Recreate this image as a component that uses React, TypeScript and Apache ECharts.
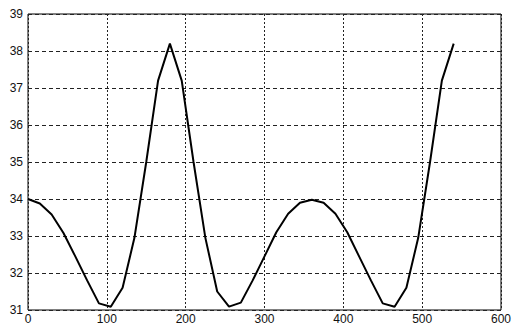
import React, { useEffect, useRef } from "react";
import * as echarts from "echarts";

const xValues = [0, 15, 30, 45, 60, 75, 90, 105, 120, 135, 150, 165, 180, 195, 210, 225, 240, 255, 270, 285, 300, 315, 330, 345, 360, 375, 390, 405, 420, 435, 450, 465, 480, 495, 510, 525, 540];
const yValues = [34.0, 33.88, 33.58, 33.08, 32.45, 31.8, 31.18, 31.09, 31.6, 32.95, 35.0, 37.2, 38.2, 37.2, 35.0, 32.95, 31.5, 31.09, 31.2, 31.8, 32.45, 33.1, 33.6, 33.9, 33.98, 33.9, 33.6, 33.1, 32.45, 31.8, 31.18, 31.09, 31.6, 32.95, 35.0, 37.2, 38.2];

export default function App() {
  const ref = useRef<HTMLDivElement>(null);
  useEffect(() => {
    if (!ref.current) return;
    const chart = echarts.init(ref.current, undefined, { renderer: "svg" });
    const data = xValues.map((x, i) => [x, yValues[i]]);
    chart.setOption({
      animation: false,
      backgroundColor: "#fff",
      grid: {
        left: 28,
        right: 9,
        top: 14,
        bottom: 18,
        show: true,
        borderColor: "#000",
        borderWidth: 1,
      },
      xAxis: {
        type: "value",
        min: 0,
        max: 600,
        interval: 100,
        axisLine: { show: false },
        axisTick: { show: false },
        axisLabel: { color: "#111", fontFamily: "Arial, Liberation Sans", fontSize: 12, margin: 3 },
        splitLine: { show: true, lineStyle: { color: "#222", type: [2, 2], width: 1 } },
      },
      yAxis: {
        type: "value",
        min: 31,
        max: 39,
        interval: 1,
        axisLine: { show: false },
        axisTick: { show: false },
        axisLabel: { color: "#111", fontFamily: "Arial, Liberation Sans", fontSize: 12, margin: 5 },
        splitLine: { show: true, lineStyle: { color: "#222", type: [4, 3], width: 1 } },
      },
      series: [
        {
          type: "line",
          data,
          showSymbol: false,
          lineStyle: { color: "#000", width: 2 },
          z: 5,
        },
      ],
    });
    return () => chart.dispose();
  }, []);
  return <div ref={ref} style={{ position: "fixed", left: 0, top: 0, width: 514, height: 328 }} />;
}
